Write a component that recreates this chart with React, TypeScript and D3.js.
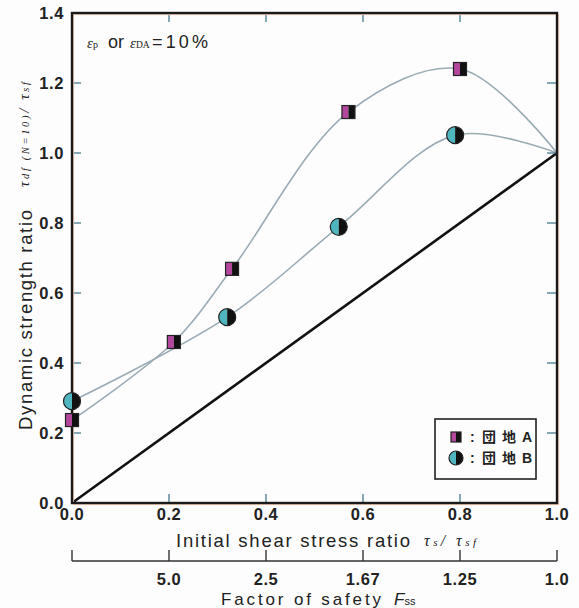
import React from "react";
import * as d3 from "d3";

// 団地A (squares) and 団地B (circles), both curves end at (1.0, 1.0)
const seriesA = [
  [0.0, 0.237],
  [0.21, 0.46],
  [0.33, 0.669],
  [0.57, 1.117],
  [0.8, 1.24],
];
const seriesB = [
  [0.0, 0.291],
  [0.32, 0.531],
  [0.55, 0.789],
  [0.79, 1.051],
];
const curveEnd = [1.0, 1.0];

const xTicks = [0, 0.2, 0.4, 0.6, 0.8, 1.0];
const yTicks = [0, 0.2, 0.4, 0.6, 0.8, 1.0, 1.2, 1.4];
const fssTicks = [0, 0.2, 0.4, 0.6, 0.8, 1.0];
const fssLabels = ["", "5.0", "2.5", "1.67", "1.25", "1.0"];

const SANS = "'Liberation Sans', Arial, sans-serif";
const SERIF = "'Liberation Serif', 'Times New Roman', serif";
const CJK = "'Noto Sans CJK JP', 'Noto Sans CJK SC', sans-serif";

const MAGENTA = "#b3479d";
const TEAL = "#4fb6bf";
const CURVE = "#9aabb4";
const TICK = "#4a7a8e";

const Square = ({ x, y, s }) => (
  <g>
    <rect x={x - s / 2} y={y - s / 2} width={s / 2} height={s} fill={MAGENTA} />
    <rect x={x} y={y - s / 2} width={s / 2} height={s} fill="#111" />
    <rect x={x - s / 2} y={y - s / 2} width={s} height={s} fill="none" stroke="#222" strokeWidth={1.2} />
  </g>
);

const Circle = ({ x, y, r }) => (
  <g>
    <path d={`M${x},${y - r} A${r},${r} 0 0 0 ${x},${y + r} Z`} fill={TEAL} />
    <path d={`M${x},${y - r} A${r},${r} 0 0 1 ${x},${y + r} Z`} fill="#111" />
    <circle cx={x} cy={y} r={r} fill="none" stroke="#222" strokeWidth={1.2} />
  </g>
);

const Chart = () => {
  const width = 579;
  const height = 608;
  const left = 72;
  const right = 557;
  const top = 13;
  const bottom = 503;

  const xScale = d3.scaleLinear().domain([0, 1]).range([left, right]);
  const yScale = d3.scaleLinear().domain([0, 1.4]).range([bottom, top]);

  const line = d3
    .line()
    .x((d) => xScale(d[0]))
    .y((d) => yScale(d[1]))
    .curve(d3.curveCatmullRom.alpha(0.5));

  const fssY = 561;

  return (
    <svg
      width={width}
      height={height}
      style={{ position: "absolute", left: 0, top: 0, background: "#fdfdfe" }}
    >
      {/* curves */}
      <path d={line([...seriesA, curveEnd])} fill="none" stroke={CURVE} strokeWidth={1.6} />
      <path d={line([...seriesB, curveEnd])} fill="none" stroke={CURVE} strokeWidth={1.6} />

      {/* 1:1 line */}
      <line
        x1={xScale(0)}
        y1={yScale(0)}
        x2={xScale(1)}
        y2={yScale(1)}
        stroke="#111"
        strokeWidth={2.6}
      />

      {/* inward ticks */}
      {xTicks.slice(1, -1).map((t) => (
        <g key={"xt" + t}>
          <line x1={xScale(t)} x2={xScale(t)} y1={bottom} y2={bottom - 9} stroke={TICK} strokeWidth={1.3} />
          <line x1={xScale(t)} x2={xScale(t)} y1={top} y2={top + 9} stroke={TICK} strokeWidth={1.3} />
        </g>
      ))}
      {yTicks.slice(1, -1).map((t) => (
        <g key={"yt" + t}>
          <line x1={left} x2={left + 9} y1={yScale(t)} y2={yScale(t)} stroke={TICK} strokeWidth={1.3} />
          <line x1={right} x2={right - 10} y1={yScale(t)} y2={yScale(t)} stroke={TICK} strokeWidth={1.3} />
        </g>
      ))}

      {/* frame */}
      <rect
        x={left + 1.5}
        y={top + 1.5}
        width={right - left}
        height={bottom - top}
        fill="none"
        stroke="#f3cdb5"
        strokeWidth={1.2}
      />
      <rect
        x={left}
        y={top}
        width={right - left}
        height={bottom - top}
        fill="none"
        stroke="#1a1a1a"
        strokeWidth={2.4}
      />

      {/* markers */}
      {seriesA.map(([x, y], i) => (
        <Square key={"a" + i} x={xScale(x)} y={yScale(y)} s={13} />
      ))}
      {seriesB.map(([x, y], i) => (
        <Circle key={"b" + i} x={xScale(x)} y={yScale(y)} r={8.5} />
      ))}

      {/* tick labels */}
      {yTicks.map((t) => (
        <text
          key={"yl" + t}
          x={left - 8}
          y={yScale(t) + 6}
          textAnchor="end"
          fontFamily={SANS}
          fontWeight="bold"
          fontSize={16.5}
          letterSpacing={0.6}
          fill="#222"
        >
          {t.toFixed(1)}
        </text>
      ))}
      {xTicks.map((t) => (
        <text
          key={"xl" + t}
          x={xScale(t)}
          y={bottom + 17}
          textAnchor="middle"
          fontFamily={SANS}
          fontWeight="bold"
          fontSize={16.5}
          letterSpacing={0.6}
          fill="#222"
        >
          {t.toFixed(1)}
        </text>
      ))}

      {/* x axis title */}
      <text x={176} y={547} fontFamily={SANS} fontSize={18.5} fill="#222" textLength={234} lengthAdjust="spacing">
        Initial shear stress ratio
      </text>
      <text x={424} y={546} fontFamily={SERIF} fontStyle="italic" fontSize={16} fill="#222" textLength={52} lengthAdjust="spacing">
        τ<tspan fontSize={11}>s</tspan>/ τ<tspan fontSize={11}>sf</tspan>
      </text>

      {/* factor of safety axis */}
      <line x1={xScale(0)} x2={xScale(1)} y1={fssY} y2={fssY} stroke="#333" strokeWidth={1.6} />
      {fssTicks.map((t, i) => (
        <g key={"f" + t}>
          <line x1={xScale(t)} x2={xScale(t)} y1={fssY} y2={fssY - 11} stroke="#333" strokeWidth={1.4} />
          <text
            x={xScale(t)}
            y={fssY + 24}
            textAnchor="middle"
            fontFamily={SANS}
            fontWeight="bold"
            fontSize={16.5}
            letterSpacing={0.6}
            fill="#222"
          >
            {fssLabels[i]}
          </text>
        </g>
      ))}
      <text x={221} y={605} fontFamily={SANS} fontSize={17} fill="#222" textLength={160} lengthAdjust="spacing">
        Factor of safety
      </text>
      <text x={394} y={605} fontFamily={SANS} fontStyle="italic" fontSize={17} fill="#222">
        F<tspan fontSize={11} fontStyle="normal">ss</tspan>
      </text>

      {/* y axis title */}
      <text
        transform="translate(32,430) rotate(-90)"
        fontFamily={SANS}
        fontSize={18.5}
        fill="#222"
        textLength={220}
        lengthAdjust="spacing"
      >
        Dynamic strength ratio
      </text>
      <text
        transform="translate(29,187) rotate(-90)"
        fontFamily={SERIF}
        fontStyle="italic"
        fontSize={15}
        fill="#222"
        textLength={105}
        lengthAdjust="spacing"
      >
        τ<tspan fontSize={10.5}>df (N=10)</tspan>/ τ<tspan fontSize={10.5}>sf</tspan>
      </text>

      {/* annotation */}
      <text x={87} y={48} fontFamily={SERIF} fontStyle="italic" fontSize={15} fill="#222">
        ε<tspan fontSize={10} fontStyle="normal">p</tspan>
      </text>
      <text x={108} y={48} fontFamily={SANS} fontSize={18} fill="#222">
        or
      </text>
      <text x={130} y={48} fontFamily={SERIF} fontStyle="italic" fontSize={15} fill="#222">
        ε<tspan fontSize={9.5} fontStyle="normal">DA</tspan>
      </text>
      <text x={152} y={48} fontFamily={SANS} fontSize={18} fill="#222" textLength={56} lengthAdjust="spacing">
        =10%
      </text>

      {/* legend */}
      <rect x={435} y={419} width={101} height={60} fill="#fdfdfe" stroke="#222" strokeWidth={1.6} />
      <Square x={456} y={437} s={10} />
      <Circle x={456} y={458} r={7} />
      <text x={470} y={442} fontFamily={SANS} fontWeight="bold" fontSize={14} fill="#222">
        :
      </text>
      <text x={470} y={463} fontFamily={SANS} fontWeight="bold" fontSize={14} fill="#222">
        :
      </text>
      <text x={482} y={442} fontFamily={CJK} fontWeight="bold" fontSize={14} fill="#222" textLength={50} lengthAdjust="spacing">
        団地<tspan fontFamily={SANS}>A</tspan>
      </text>
      <text x={482} y={463} fontFamily={CJK} fontWeight="bold" fontSize={14} fill="#222" textLength={50} lengthAdjust="spacing">
        団地<tspan fontFamily={SANS}>B</tspan>
      </text>
    </svg>
  );
};

export default function App() {
  return <Chart />;
}
